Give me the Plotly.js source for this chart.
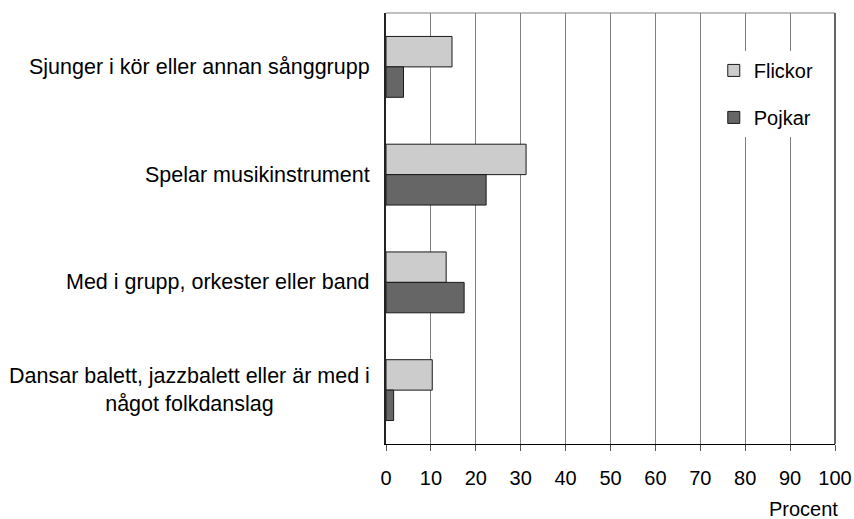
<!DOCTYPE html>
<html>
<head>
<meta charset="utf-8">
<script src="https://cdn.plot.ly/plotly-3.0.1.min.js"></script>
<style>html,body{margin:0;padding:0;background:#fff;}#chart{width:854px;height:519px;}</style>
</head>
<body>
<div id="chart"></div>
<script>
const categories = [
  "Sjunger i kör eller annan sånggrupp",
  "Spelar musikinstrument",
  "Med i grupp, orkester eller band",
  "Dansar balett, jazzbalett eller är med i<br>något folkdanslag"
];
const flickor = [14.7, 31.2, 13.4, 10.3];
const pojkar = [3.9, 22.3, 17.4, 1.7];
const seriesNames = ["Flickor", "Pojkar"];
const xTicks = [0, 10, 20, 30, 40, 50, 60, 70, 80, 90, 100];
const xTitle = "Procent";

const FONT = "Liberation Sans, Arial, sans-serif";

const traces = [
  {type: "bar", orientation: "h", name: seriesNames[0], y: categories, x: flickor,
   legendgroup: "a", marker: {color: "#cccccc", line: {color: "#1a1a1a", width: 1}}, hoverinfo: "skip"},
  {type: "bar", orientation: "h", name: seriesNames[1], y: categories, x: pojkar,
   legendgroup: "b", marker: {color: "#666666", line: {color: "#1a1a1a", width: 1}}, hoverinfo: "skip"}
];

const annotations = categories.map(c => ({
  xref: "paper", yref: "y", x: 0, y: c, xanchor: "right", yanchor: "middle",
  xshift: -14, text: c, showarrow: false, align: "center",
  font: {family: FONT, size: 21.5, color: "#000"}
}));
annotations.push({
  xref: "paper", yref: "paper", x: 1, y: 0, xanchor: "right", yanchor: "middle",
  xshift: 5, yshift: -65, text: xTitle, showarrow: false,
  font: {family: FONT, size: 20, color: "#000"}
});

const layout = {
  width: 854, height: 519,
  margin: {l: 386, r: 19, t: 13, b: 75},
  paper_bgcolor: "#fff", plot_bgcolor: "#fff",
  barmode: "group", bargap: 0.435, bargroupgap: 0,
  font: {family: FONT, size: 20, color: "#000"},
  xaxis: {
    range: [0, 100], tickvals: xTicks, ticktext: xTicks.map(String),
    showgrid: true, gridcolor: "#808080", gridwidth: 1,
    showline: true, linecolor: "#000", linewidth: 1,
    ticks: "outside", ticklen: 6, tickcolor: "#555", tickwidth: 1,
    ticklabelposition: "outside", ticklabelstandoff: 10,
    zeroline: false, fixedrange: true,
    tickfont: {family: FONT, size: 20, color: "#000"}
  },
  yaxis: {
    type: "category", categoryorder: "array", categoryarray: categories,
    range: [3.5, -0.5], showticklabels: false, ticks: "",
    showgrid: false, showline: true, linecolor: "#222", linewidth: 2,
    zeroline: false, fixedrange: true
  },
  showlegend: true,
  legend: {
    x: 0.73, y: 0.912, xanchor: "left", yanchor: "top",
    bgcolor: "#fff", borderwidth: 0, traceorder: "grouped", tracegroupgap: 18,
    font: {family: FONT, size: 20, color: "#000"}
  },
  shapes: [
    {type: "line", xref: "paper", yref: "paper", x0: 0, x1: 1, y0: 1, y1: 1,
     line: {color: "#808080", width: 1}, layer: "below"},
    {type: "line", xref: "paper", yref: "paper", x0: 1, x1: 1, y0: 0, y1: 1,
     line: {color: "#333", width: 1.5}, layer: "below"}
  ],
  annotations: annotations
};

Plotly.newPlot("chart", traces, layout, {displayModeBar: false, staticPlot: true});
</script>
</body>
</html>
